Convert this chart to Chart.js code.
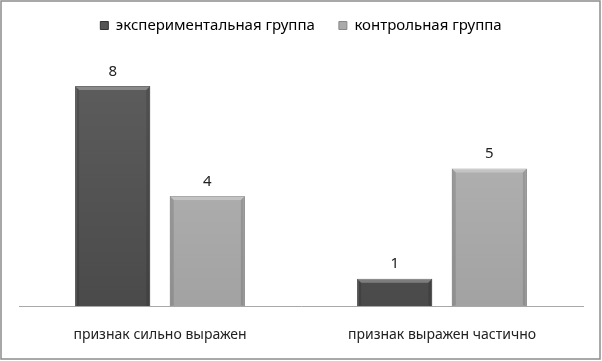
<!DOCTYPE html>
<html>
<head>
<meta charset="utf-8">
<script src="https://cdn.jsdelivr.net/npm/chart.js@4/dist/chart.umd.min.js"></script>
<style>
  body { margin: 0; background: #fff; }
  #wrap { width: 602px; height: 361px; }
</style>
</head>
<body>
<div id="wrap"><canvas id="chart"></canvas></div>
<script>
// data
var categories = ["признак сильно выражен", "признак выражен частично"];
var seriesNames = ["экспериментальная группа", "контрольная группа"];
var experimental = [8, 1];
var control = [4, 5];
var yMax = 9;

var FONT = "'Noto Sans', sans-serif";
var LEGEND_EXTRA = 15.5; // space under the legend

function barGradient(ctx, dark) {
    var chart = ctx.chart;
    var area = chart.chartArea;
    if (!area) return dark ? "#555" : "#aaa";
    var g = chart.ctx.createLinearGradient(0, area.top, 0, area.bottom);
    if (dark) {
        g.addColorStop(0, "#5e5e5e");
        g.addColorStop(1, "#4a4a4a");
    } else {
        g.addColorStop(0, "#b8b8b8");
        g.addColorStop(1, "#a2a2a2");
    }
    return g;
}

// frame around the whole picture
var framePlugin = {
    id: "frame",
    beforeDraw: function (chart) {
        var c = chart.ctx;
        c.save();
        c.fillStyle = "#fff";
        c.fillRect(0, 0, chart.width, chart.height);
        c.strokeStyle = "#8c8c8c";
        c.lineWidth = 1.5;
        c.strokeRect(1, 1, chart.width - 3, chart.height - 3);
        c.restore();
    }
};

// more room below the legend
var legendGapPlugin = {
    id: "legendGap",
    afterInit: function (chart) {
        var lg = chart.legend;
        var fit = lg.fit;
        lg.fit = function () {
            fit.call(lg);
            lg.height += LEGEND_EXTRA;
        };
    }
};

// values above bars + bevel highlight
var valuePlugin = {
    id: "values",
    afterDatasetsDraw: function (chart) {
        var c = chart.ctx;
        c.save();
        chart.data.datasets.forEach(function (ds, i) {
            chart.getDatasetMeta(i).data.forEach(function (bar, j) {
                var w = bar.width;
                var l = bar.x - w / 2, r = bar.x + w / 2;
                var t = bar.y, b = bar.base;
                var e = 4;
                // top bevel
                c.fillStyle = "rgba(255,255,255,0.28)";
                c.beginPath();
                c.moveTo(l, t); c.lineTo(r, t); c.lineTo(r - e, t + e); c.lineTo(l + e, t + e);
                c.closePath(); c.fill();
                // side bevels
                c.fillStyle = "rgba(0,0,0,0.12)";
                c.beginPath();
                c.moveTo(r, t); c.lineTo(r, b); c.lineTo(r - e, b - 1); c.lineTo(r - e, t + e);
                c.closePath(); c.fill();
                c.beginPath();
                c.moveTo(l, t); c.lineTo(l, b); c.lineTo(l + e, b - 1); c.lineTo(l + e, t + e);
                c.closePath(); c.fill();

                c.fillStyle = "#222";
                c.font = "15px " + FONT;
                c.textAlign = "center";
                c.textBaseline = "bottom";
                c.fillText(ds.data[j], bar.x, t - 7);
            });
        });
        c.restore();
    }
};

new Chart(document.getElementById("chart").getContext("2d"), {
    type: "bar",
    data: {
        labels: categories,
        datasets: [{
                label: seriesNames[0],
                data: experimental,
                backgroundColor: function (ctx) { return barGradient(ctx, true); },
                borderColor: "#3a3a3a",
                borderWidth: 1
            },
            {
                label: seriesNames[1],
                data: control,
                backgroundColor: function (ctx) { return barGradient(ctx, false); },
                borderColor: "#8a8a8a",
                borderWidth: 1
            }
        ]
    },
    options: {
        responsive: true,
        maintainAspectRatio: false,
        animation: false,
        layout: { padding: { left: 19, right: 19, top: -6, bottom: 6 } },
        datasets: {
            bar: { categoryPercentage: 0.671, barPercentage: 0.794 }
        },
        plugins: {
            legend: {
                position: "top",
                labels: {
                    boxWidth: 8,
                    boxHeight: 8,
                    padding: 24,
                    color: "#222",
                    font: { family: FONT, size: 15 },
                    generateLabels: function (chart) {
                        return chart.data.datasets.map(function (ds, i) {
                            return {
                                text: ds.label,
                                fillStyle: i === 0 ? "#555" : "#aaa",
                                strokeStyle: i === 0 ? "#333" : "#888",
                                lineWidth: 1,
                                datasetIndex: i
                            };
                        });
                    }
                }
            },
            tooltip: { enabled: false }
        },
        scales: {
            x: {
                grid: { display: false },
                border: { display: true, color: "#a8a8a8", width: 1 },
                ticks: { color: "#222", padding: 12, font: { family: FONT, size: 14 } }
            },
            y: {
                display: false,
                min: 0,
                max: yMax
            }
        }
    },
    plugins: [framePlugin, legendGapPlugin, valuePlugin]
});
</script>
</body>
</html>
